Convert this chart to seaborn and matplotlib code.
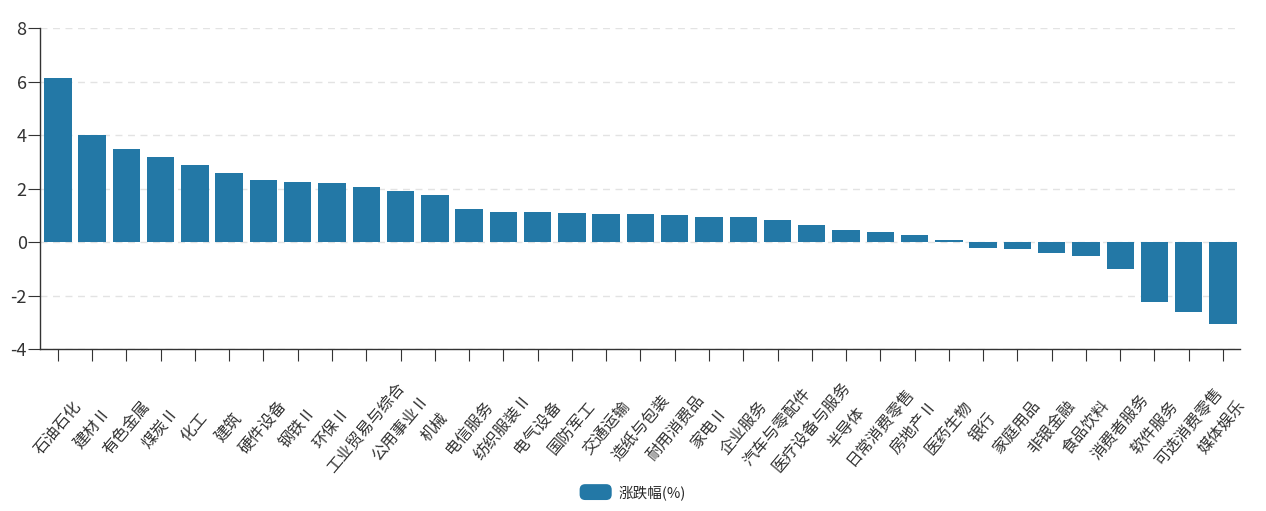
import matplotlib
matplotlib.use('Agg')
import matplotlib.pyplot as plt
from matplotlib.patches import FancyBboxPatch
from matplotlib.legend_handler import HandlerPatch
import seaborn as sns
import pandas as pd

categories = ['石油石化', '建材Ⅱ', '有色金属', '煤炭Ⅱ', '化工', '建筑', '硬件设备', '钢铁Ⅱ',
              '环保Ⅱ', '工业贸易与综合', '公用事业Ⅱ', '机械', '电信服务', '纺织服装Ⅱ', '电气设备',
              '国防军工', '交通运输', '造纸与包装', '耐用消费品', '家电Ⅱ', '企业服务', '汽车与零配件',
              '医疗设备与服务', '半导体', '日常消费零售', '房地产Ⅱ', '医药生物', '银行', '家庭用品',
              '非银金融', '食品饮料', '消费者服务', '软件服务', '可选消费零售', '媒体娱乐']
values = [6.12, 4.0, 3.48, 3.18, 2.88, 2.58, 2.32, 2.24,
          2.2, 2.06, 1.91, 1.76, 1.23, 1.12, 1.12,
          1.08, 1.05, 1.05, 1.01, 0.93, 0.93, 0.82,
          0.64, 0.45, 0.37, 0.25, 0.06, -0.24, -0.26,
          -0.41, -0.51, -1.02, -2.25, -2.62, -3.07]
series_name = '涨跌幅(%)'

df = pd.DataFrame({'行业': categories, series_name: values})

sns.set_style('white')
plt.rcParams['font.family'] = ['Noto Sans CJK SC', 'DejaVu Sans']
plt.rcParams['axes.unicode_minus'] = False

fig = plt.figure(figsize=(12.66, 5.11), dpi=100)
ax = fig.add_axes([0.0316, 0.317, 0.948, 0.628])

bar_color = '#2378a6'
sns.barplot(data=df, x='行业', y=series_name, color=bar_color, width=0.8,
            saturation=1, linewidth=0, edgecolor='none',
            label=series_name, ax=ax, zorder=3)

ax.set_ylim(-4, 8)
ax.set_yticks([-4, -2, 0, 2, 4, 6, 8])
ax.set_xlim(-0.52, 34.5)
ax.set_axisbelow(True)
ax.yaxis.grid(True, linestyle=(0, (5, 4)), color='#e3e3e3', linewidth=1)
ax.set_xlabel('')
ax.set_ylabel('')

for s in ['top', 'right']:
    ax.spines[s].set_visible(False)
for s in ['left', 'bottom']:
    ax.spines[s].set_color('#333333')
    ax.spines[s].set_linewidth(1)

ax.tick_params(axis='y', which='both', left=True, length=8.6, color='#333333',
               labelsize=13, labelcolor='#333333', pad=1)
ax.tick_params(axis='x', which='both', bottom=True, length=8.6, color='#333333',
               labelsize=11.5, labelcolor='#333333', pad=48)
plt.setp(ax.get_xticklabels(), rotation=50, ha='center', va='center',
         rotation_mode='anchor')


class RoundHandler(HandlerPatch):
    def create_artists(self, legend, orig_handle, xdescent, ydescent,
                       width, height, fontsize, trans):
        p = FancyBboxPatch((-xdescent, -ydescent), width, height,
                           boxstyle='round,pad=0,rounding_size=4',
                           facecolor=bar_color, edgecolor='none', transform=trans)
        return [p]


handles, labels = ax.get_legend_handles_labels()
leg = ax.legend(handles, labels, loc='center', bbox_to_anchor=(0.5, 0.037),
                bbox_transform=fig.transFigure, frameon=False, fontsize=10.5,
                handlelength=2.2, handleheight=1.3, handletextpad=0.5,
                handler_map={type(handles[0]): RoundHandler()})

fig.savefig('out.png', dpi=100)
